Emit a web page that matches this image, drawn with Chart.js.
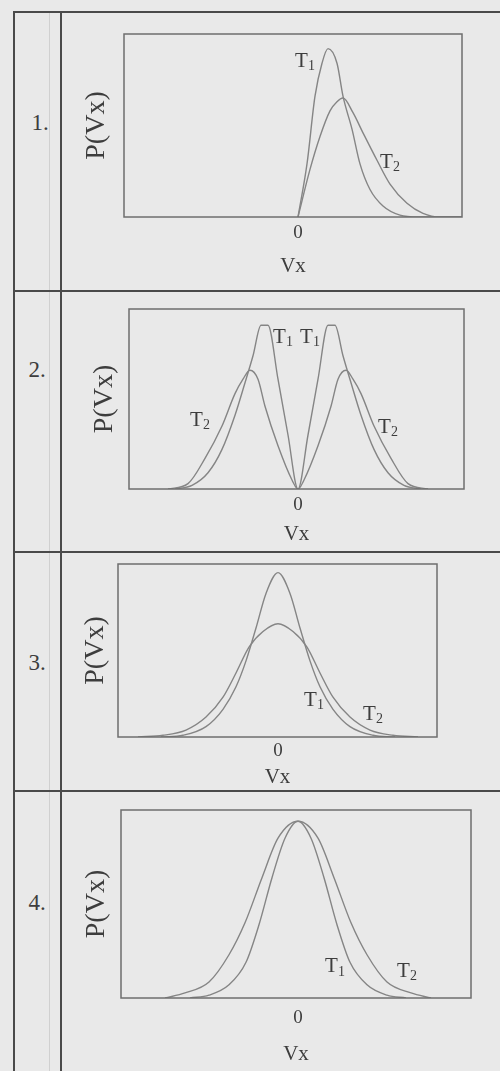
<!DOCTYPE html>
<html>
<head>
<meta charset="utf-8">
<title>P(Vx) for T1 and T2</title>
<script src="https://cdn.jsdelivr.net/npm/chart.js@4.4.1/dist/chart.umd.min.js"></script>
<style>
  html, body { margin: 0; padding: 0; }
  body {
    width: 500px; height: 1071px; position: relative; overflow: hidden;
    background: #e9e9e9; color: #3d3d3d;
    font-family: "Liberation Serif", "DejaVu Serif", serif;
  }
  .line { position: absolute; background: #4a4a4a; }
  .num { position: absolute; font-size: 23px; transform: translate(-50%, -50%); }
  canvas { position: absolute; }
</style>
</head>
<body>
<!-- table rules -->
<div class="line" style="left:13px;top:11px;width:2px;height:1060px"></div>
<div class="line" style="left:49px;top:11px;width:1px;height:1060px;background:#d0d0d0"></div>
<div class="line" style="left:60px;top:11px;width:2px;height:1060px"></div>
<div class="line" style="left:13px;top:11px;width:487px;height:2px"></div>
<div class="line" style="left:13px;top:290px;width:487px;height:2px"></div>
<div class="line" style="left:13px;top:551px;width:487px;height:2px"></div>
<div class="line" style="left:13px;top:790px;width:487px;height:2px"></div>

<div class="num" style="left:40px;top:123px">1.</div>
<div class="num" style="left:37px;top:370px">2.</div>
<div class="num" style="left:37px;top:663px">3.</div>
<div class="num" style="left:37px;top:903px">4.</div>

<canvas id="c1" width="384" height="247" style="left:80px;top:32px"></canvas>
<canvas id="c2" width="378" height="240" style="left:88px;top:307px"></canvas>
<canvas id="c3" width="360" height="228" style="left:79px;top:562px"></canvas>
<canvas id="c4" width="393" height="259" style="left:80px;top:808px"></canvas>

<script>
// Chart 1: one-sided distributions
const c1VxT1 = [0, 0.9, 1.7, 2.4, 3.0, 3.9, 4.5, 5.4, 6.2, 7.2, 8.5, 10.2, 12.0, 16.4];
const c1PT1  = [0, 29, 66, 84, 92, 84, 66, 48, 29, 15, 6, 1, 0, 0];
const c1VxT2 = [0, 1.2, 2.2, 3.2, 3.9, 4.5, 5.5, 6.5, 7.9, 9.2, 10.9, 12.5, 14.2, 16.4];
const c1PT2  = [0, 26, 44, 58, 63, 65, 57, 46, 31, 18, 7.5, 2, 0, 0];

// Chart 2: two humps, zero at Vx = 0
const c2VxT1 = [-12.3, -10.6, -9.0, -7.6, -6.3, -5.3, -4.5, -3.7, -3.0, -2.0, -1.0, 0,
                1.0, 2.0, 3.0, 3.7, 4.5, 5.3, 6.3, 7.6, 9.0, 10.6, 12.3];
const c2PT1  = [0, 2, 9, 22, 41, 59, 74, 91, 91, 61, 30, 0,
                30, 61, 91, 91, 74, 59, 41, 22, 9, 2, 0];
const c2VxT2 = [-13.0, -11.0, -9.3, -7.6, -6.3, -5.5, -4.8, -4.0, -3.3, -2.0, -0.6, 0,
                0.6, 2.0, 3.3, 4.0, 4.8, 5.5, 6.3, 7.6, 9.3, 11.0, 13.0];
const c2PT2  = [0, 3, 17, 35, 53, 61, 66, 61, 46, 24, 5, 0,
                5, 24, 46, 61, 66, 61, 53, 35, 17, 3, 0];

// Chart 3: peaks of different height
const c3VxT1 = [-11.7, -9.5, -7.2, -5.5, -4.2, -3.2, -2.2, -1.2, 0, 1.2, 2.2, 3.2, 4.2, 5.5, 7.2, 9.5, 11.7];
const c3PT1  = [0, 1, 6, 16, 29, 44, 63, 83, 95, 83, 63, 44, 29, 16, 6, 1, 0];
const c3VxT2 = [-14, -11.5, -9.2, -7.2, -5.5, -4.2, -2.9, -1.5, 0, 1.5, 2.9, 4.2, 5.5, 7.2, 9.2, 11.5, 14];
const c3PT2  = [0, 1, 4, 11.5, 23, 37, 52, 61, 65.5, 61, 52, 37, 23, 11.5, 4, 1, 0];

// Chart 4: same peak height, different width
const c4VxT1 = [-10.8, -8.9, -6.9, -5.2, -3.9, -2.6, -1.3, 0, 1.3, 2.6, 3.9, 5.2, 6.9, 8.9, 10.8];
const c4PT1  = [0, 1.5, 7, 19, 39, 64, 85, 94, 85, 64, 39, 19, 7, 1.5, 0];
const c4VxT2 = [-13.3, -11.3, -8.9, -6.9, -5.3, -3.6, -2.0, 0, 2.0, 3.6, 5.3, 6.9, 8.9, 11.3, 13.3];
const c4PT2  = [0, 2.7, 8.5, 23, 40, 64, 85, 94, 85, 64, 40, 23, 8.5, 2.7, 0];

// curve names, placed in data coordinates
const c1Labels = [{sub: '1', x: 0.7, y: 85}, {sub: '2', x: 9.2, y: 30}];
const c2Labels = [{sub: '1', x: -1.5, y: 84}, {sub: '1', x: 1.2, y: 84},
                  {sub: '2', x: -9.8, y: 38}, {sub: '2', x: 9.0, y: 34}];
const c3Labels = [{sub: '1', x: 3.6, y: 21}, {sub: '2', x: 9.5, y: 13}];
const c4Labels = [{sub: '1', x: 3.7, y: 16.5}, {sub: '2', x: 10.9, y: 14}];

const FONT = 'Liberation Serif';
const INK = '#3d3d3d';

// box around the plot area + T labels
const framePlugin = {
    id: 'frame',
    afterDatasetsDraw(chart, args, opts) {
        const {ctx, chartArea: a, scales: {x, y}} = chart;
        ctx.save();
        ctx.strokeStyle = '#6e6e6e';
        ctx.lineWidth = 1.5;
        ctx.strokeRect(a.left, a.top, a.right - a.left, a.bottom - a.top);
        ctx.fillStyle = INK;
        ctx.textBaseline = 'middle';
        ctx.textAlign = 'left';
        (opts.labels || []).forEach(l => {
            ctx.font = `21px "${FONT}"`;
            const wT = ctx.measureText('T').width;
            ctx.font = `14px "${FONT}"`;
            const wS = ctx.measureText(l.sub).width;
            const px = x.getPixelForValue(l.x) - (wT + wS) / 2;
            const py = y.getPixelForValue(l.y);
            ctx.font = `21px "${FONT}"`;
            ctx.fillText('T', px, py);
            ctx.font = `14px "${FONT}"`;
            ctx.fillText(l.sub, px + wT, py + 5);
        });
        ctx.restore();
    }
};

function series(vx, p) {
    return {
        data: vx.map((v, i) => ({x: v, y: p[i]})),
        borderColor: '#858585',
        borderWidth: 1.4,
        pointRadius: 0,
        fill: false,
        cubicInterpolationMode: 'monotone'
    };
}

function makeChart(id, xMin, xMax, datasets, labels, tickPad, titlePad, yPad) {
    new Chart(document.getElementById(id), {
        type: 'line',
        data: {datasets: datasets},
        options: {
            responsive: false,
            animation: false,
            events: [],
            layout: {padding: {top: 2, right: 2, left: 0, bottom: 0}},
            plugins: {
                legend: {display: false},
                tooltip: {enabled: false},
                frame: {labels: labels}
            },
            scales: {
                x: {
                    type: 'linear',
                    min: xMin,
                    max: xMax,
                    grid: {display: false, drawTicks: false},
                    border: {display: false},
                    afterBuildTicks: scale => { scale.ticks = [{value: 0}]; },
                    ticks: {padding: tickPad, maxRotation: 0, autoSkip: false, color: INK,
                            font: {family: FONT, size: 19}},
                    title: {display: true, text: 'Vx', color: INK,
                            font: {family: FONT, size: 21}, padding: {top: titlePad, bottom: 0}}
                },
                y: {
                    min: 0,
                    max: 100,
                    grid: {display: false, drawTicks: false},
                    border: {display: false},
                    ticks: {display: false},
                    title: {display: true, text: 'P(Vx)', color: INK,
                            font: {family: FONT, size: 28}, padding: {top: 0, bottom: yPad}}
                }
            }
        },
        plugins: [framePlugin]
    });
}

window.addEventListener('DOMContentLoaded', event => {
    makeChart('c1', -17.4, 16.4, [series(c1VxT1, c1PT1), series(c1VxT2, c1PT2)], c1Labels, 5, 4, 10.4);
    makeChart('c2', -16.9, 16.6, [series(c2VxT1, c2PT1), series(c2VxT2, c2PT2)], c2Labels, 4.5, 1, 7.4);
    makeChart('c3', -16.0, 15.9, [series(c3VxT1, c3PT1), series(c3VxT2, c3PT2)], c3Labels, 2.5, 0, 5.4);
    makeChart('c4', -17.7, 17.3, [series(c4VxT1, c4PT1), series(c4VxT2, c4PT2)], c4Labels, 8.5, 4, 7.4);
});
</script>
</body>
</html>
